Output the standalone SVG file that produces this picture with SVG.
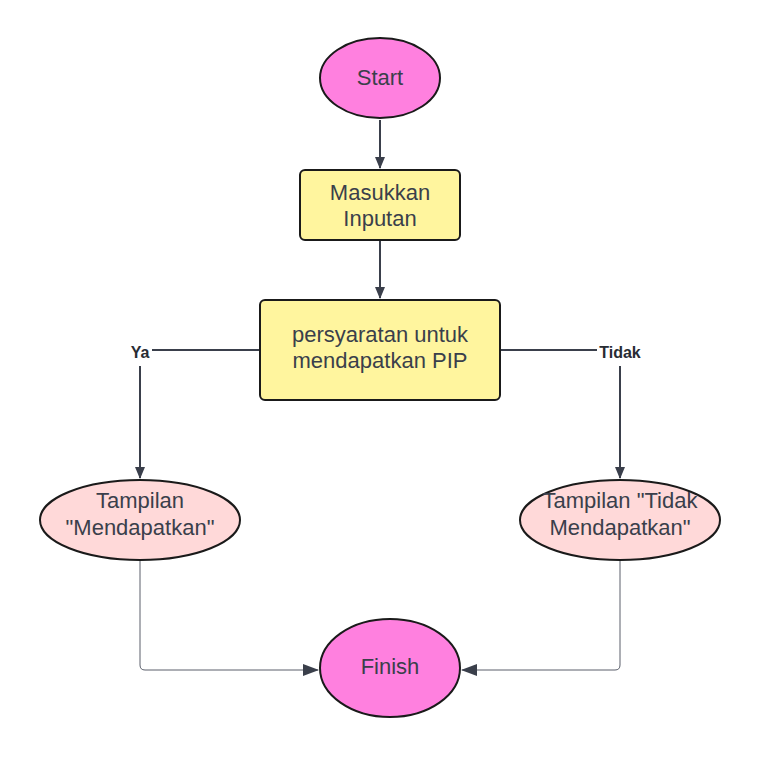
<svg xmlns="http://www.w3.org/2000/svg" width="760" height="760" viewBox="0 0 760 760">
<style>
.t{font-family:"Liberation Sans",Arial,sans-serif;font-size:22px;fill:#3a3f4b;text-anchor:middle}
.l{font-family:"Liberation Sans",Arial,sans-serif;font-size:16px;font-weight:bold;fill:#282c33;text-anchor:middle}
.term{fill:#ff80df;stroke:#1a1a1a;stroke-width:2}
.proc{fill:#fff59e;stroke:#1a1a1a;stroke-width:2}
.out{fill:#ffd9d9;stroke:#1a1a1a;stroke-width:2}
.c{fill:none;stroke:#3a3f4b;stroke-width:2}
.c2{fill:none;stroke:#5a5f6b;stroke-width:1}
</style>
<defs>
<marker id="a" markerWidth="12" markerHeight="10" refX="11" refY="5" orient="auto" markerUnits="userSpaceOnUse">
<path d="M0,0 L12,5 L0,10 Z" fill="#3a3f4b"/>
</marker>
<marker id="b" markerWidth="16" markerHeight="12" refX="15" refY="6" orient="auto" markerUnits="userSpaceOnUse">
<path d="M0,0 L16,6 L0,12 Z" fill="#3a3f4b"/>
</marker>
</defs>
<g id="connectors">
<path class="c" d="M380,120 V168" marker-end="url(#a)"/>
<path class="c" d="M380,240 V298" marker-end="url(#a)"/>
<path class="c" d="M260,350 H152"/>
<path class="c" d="M140,366 V478" marker-end="url(#a)"/>
<path class="c" d="M500,350 H597"/>
<path class="c" d="M620,366 V478" marker-end="url(#a)"/>
<path class="c2" d="M140,560 V665 Q140,670 145,670 H318" marker-end="url(#b)"/>
<path class="c2" d="M620,560 V665 Q620,670 615,670 H462" marker-end="url(#b)"/>
<text class="l" x="140" y="358">Ya</text>
<text class="l" x="620" y="358">Tidak</text>
</g>
<g id="start">
<ellipse class="term" cx="380" cy="78" rx="60" ry="40"/>
<text class="t" x="380" y="85">Start</text>
</g>
<g id="input">
<rect class="proc" x="300" y="170" width="160" height="70" rx="5"/>
<text class="t" x="380" y="200">Masukkan</text>
<text class="t" x="380" y="226">Inputan</text>
</g>
<g id="decision">
<rect class="proc" x="260" y="300" width="240" height="100" rx="5"/>
<text class="t" x="380" y="342">persyaratan untuk</text>
<text class="t" x="380" y="368">mendapatkan PIP</text>
</g>
<g id="ya">
<ellipse class="out" cx="140" cy="520" rx="100" ry="40"/>
<text class="t" x="140" y="508">Tampilan</text>
<text class="t" x="140" y="535">"Mendapatkan"</text>
</g>
<g id="tidak">
<ellipse class="out" cx="620" cy="520" rx="100" ry="40"/>
<text class="t" x="620" y="508">Tampilan "Tidak</text>
<text class="t" x="620" y="535">Mendapatkan"</text>
</g>
<g id="finish">
<ellipse class="term" cx="390" cy="668" rx="70" ry="49"/>
<text class="t" x="390" y="674">Finish</text>
</g>
</svg>
